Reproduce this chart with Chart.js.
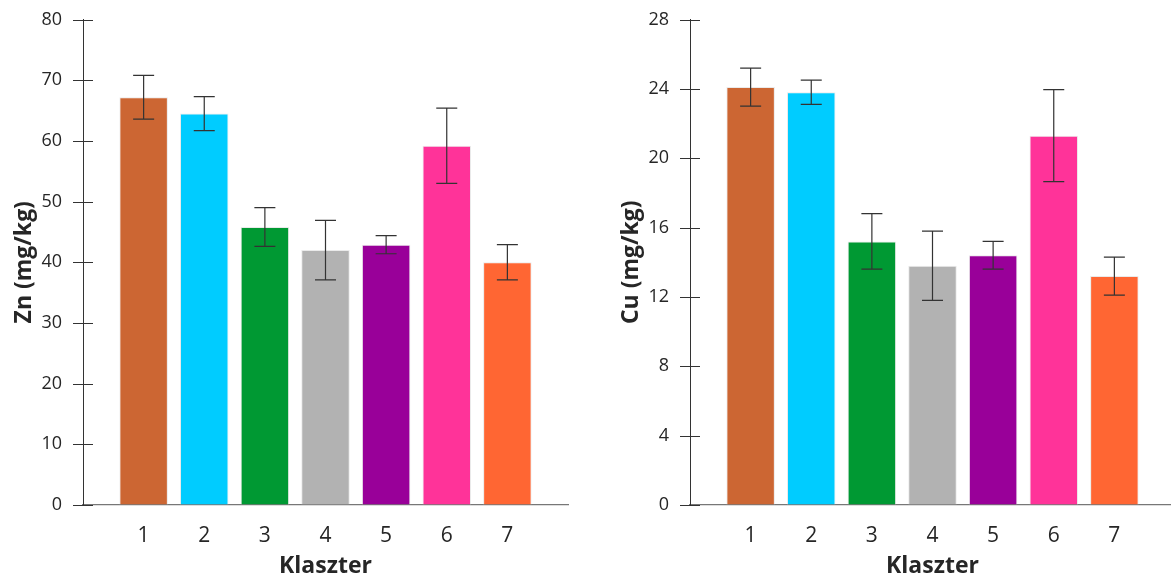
<!DOCTYPE html>
<html>
<head>
<meta charset="utf-8">
<script src="https://cdn.jsdelivr.net/npm/chart.js@4.4.1/dist/chart.umd.min.js"></script>
<style>
  html, body { margin: 0; padding: 0; background: #fff; overflow: hidden; }
  body { width: 1171px; height: 580px; position: relative; }
  .box { position: absolute; top: 0; width: 580px; height: 580px; }
  #boxZn { left: 0; }
  #boxCu { left: 607px; }
</style>
</head>
<body>
<div class="box" id="boxZn"><canvas id="znChart"></canvas></div>
<div class="box" id="boxCu"><canvas id="cuChart"></canvas></div>
<script>
// Adatok (klaszterek)
const clusters = [1, 2, 3, 4, 5, 6, 7];
const barColors = ["#CC6633", "#00CCFF", "#009933", "#B2B2B2", "#990099", "#FF3399", "#FF6633"];

const znValues = [67.2, 64.5, 45.8, 42.0, 42.9, 59.2, 40.0];
const znErrors = [3.6, 2.8, 3.2, 4.9, 1.5, 6.2, 2.9];

const cuValues = [24.1, 23.8, 15.2, 13.8, 14.4, 21.3, 13.2];
const cuErrors = [1.1, 0.7, 1.6, 2.0, 0.8, 2.65, 1.1];

Chart.defaults.font.family = "'Open Sans', 'Liberation Sans', sans-serif";
Chart.defaults.color = "#262626";

// Hibasávok
const errorBars = {
  id: "errorBars",
  afterDatasetsDraw(chart, args, opts) {
    const ctx = chart.ctx;
    const meta = chart.getDatasetMeta(0);
    const yScale = chart.scales.y;
    const errs = opts.errors || [];
    ctx.save();
    ctx.strokeStyle = "#333";
    ctx.lineWidth = 1.2;
    meta.data.forEach((bar, i) => {
      const v = chart.data.datasets[0].data[i].y;
      const top = yScale.getPixelForValue(v + errs[i]);
      const bottom = yScale.getPixelForValue(v - errs[i]);
      ctx.beginPath();
      ctx.moveTo(bar.x, top);
      ctx.lineTo(bar.x, bottom);
      ctx.moveTo(bar.x - 10.5, top);
      ctx.lineTo(bar.x + 10.5, top);
      ctx.moveTo(bar.x - 10.5, bottom);
      ctx.lineTo(bar.x + 10.5, bottom);
      ctx.stroke();
    });
    ctx.restore();
  },
};

// Y tengely osztásai (a tengelyen átnyúló vonalkák)
const crossTicks = {
  id: "crossTicks",
  afterDraw(chart) {
    const ctx = chart.ctx;
    const yScale = chart.scales.y;
    const x = chart.chartArea.left;
    ctx.save();
    ctx.strokeStyle = "#333";
    ctx.lineWidth = 1;
    yScale.ticks.forEach((t, i) => {
      const y = Math.round(yScale.getPixelForTick(i)) + 0.5;
      ctx.beginPath();
      ctx.moveTo(x - 10, y);
      ctx.lineTo(x + 10, y);
      ctx.stroke();
    });
    ctx.restore();
  },
};

function makeChart(canvasId, title, values, errors, yMax, yStep) {
  const ctx = document.getElementById(canvasId).getContext("2d");
  return new Chart(ctx, {
    type: "bar",
    data: {
      datasets: [
        {
          data: clusters.map((c, i) => ({ x: c, y: values[i] })),
          backgroundColor: barColors,
          borderColor: "rgba(225,225,225,0.7)",
          borderWidth: 1,
          barPercentage: 0.8,
          categoryPercentage: 1,
        },
      ],
    },
    options: {
      responsive: true,
      maintainAspectRatio: false,
      animation: false,
      layout: { padding: { top: 19.5, right: 12, left: 0, bottom: 0 } },
      plugins: {
        legend: { display: false },
        tooltip: { enabled: false },
        errorBars: { errors: errors },
      },
      scales: {
        x: {
          type: "linear",
          offset: false,
          min: 0,
          max: 8,
          grid: {
            display: true,
            drawOnChartArea: false,
            drawTicks: true,
            tickLength: 14,
            tickColor: "rgba(0,0,0,0)",
          },
          border: { display: true, color: "#777", width: 1.2 },
          ticks: {
            stepSize: 1,
            padding: 4,
            font: { size: 21 },
            callback: (v) => (v >= 1 && v <= 7 ? v : ""),
          },
          title: {
            display: true,
            text: "Klaszter",
            font: { size: 23, weight: "bold" },
            padding: { top: 0, bottom: 0 },
          },
          afterFit: (s) => { s.height = 75; },
        },
        y: {
          min: 0,
          max: yMax,
          grid: {
            display: true,
            drawOnChartArea: false,
            drawTicks: true,
            tickLength: 13,
            tickColor: "rgba(0,0,0,0)",
          },
          border: { display: true, color: "#333", width: 1 },
          ticks: { stepSize: yStep, padding: 8, font: { size: 18 } },
          title: {
            display: true,
            text: title,
            font: { size: 23, weight: "bold" },
            padding: { top: 11, bottom: 0 },
          },
          afterFit: (s) => { s.width = 83; },
        },
      },
    },
    plugins: [errorBars, crossTicks],
  });
}

const znChart = makeChart("znChart", "Zn (mg/kg)", znValues, znErrors, 80, 10);
const cuChart = makeChart("cuChart", "Cu (mg/kg)", cuValues, cuErrors, 28, 4);
</script>
</body>
</html>
